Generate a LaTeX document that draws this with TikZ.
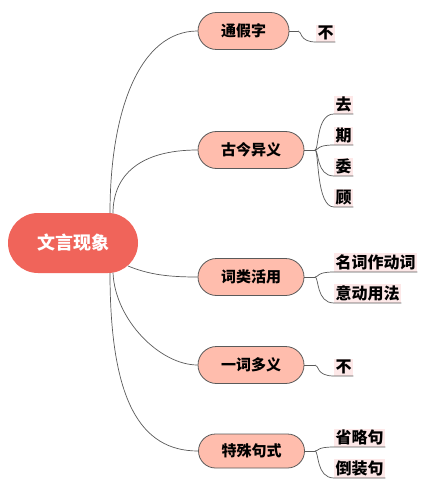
\documentclass[tikz,border=0pt]{standalone}
\usepackage{fontspec}
\setmainfont{Noto Sans CJK SC}
\usetikzlibrary{calc}
\definecolor{rootc}{HTML}{F0645A}
\definecolor{branchc}{HTML}{FFBDAD}
\definecolor{leafc}{HTML}{FDE8E8}
\definecolor{linec}{HTML}{5A5A5A}
\begin{document}
\begin{tikzpicture}[x=1pt,y=-1pt,
 rootnode/.style={rectangle, rounded corners=30pt, fill=rootc, text=white,
   font=\fontsize{18}{20}\selectfont\bfseries, minimum width=130pt, minimum height=60pt, inner sep=0pt},
 branch/.style={rectangle, rounded corners=18.5pt, fill=branchc, draw=linec, line width=0.8pt,
   font=\fontsize{15}{17}\selectfont\bfseries, minimum height=37pt, inner sep=0pt},
 w3/.style={minimum width=91pt},
 w4/.style={minimum width=106pt},
 leaf/.style={fill=leafc, font=\fontsize{16}{18}\selectfont\bfseries, inner xsep=1.5pt, inner ysep=1.5pt, anchor=south west},
 conn/.style={draw=linec, line width=0.7pt}]
\useasboundingbox (0,0) rectangle (427,486);
\fill[white] (0,0) rectangle (427,486);

\node[rootnode] (root) at (73,243) {文言现象};
\node[branch,w3] (b1) at (243.5,31) {通假字};
\node[branch,w4] (b2) at (251,150) {古今异义};
\node[branch,w4] (b3) at (251,277) {词类活用};
\node[branch,w4] (b4) at (251,365) {一词多义};
\node[branch,w4,minimum height=34pt,rounded corners=17pt] (b5) at (251.5,451) {特殊句式};

% leaves
\node[leaf] (l1) at (316,42) {不};
\node[leaf] (l2a) at (334,114) {去};
\node[leaf] (l2b) at (334,145) {期};
\node[leaf] (l2c) at (334,176) {委};
\node[leaf] (l2d) at (334,207) {顾};
\node[leaf] (l3a) at (334,272) {名词作动词};
\node[leaf] (l3b) at (334,303) {意动用法};
\node[leaf] (l4) at (334,376) {不};
\node[leaf] (l5a) at (334,447) {省略句};
\node[leaf] (l5b) at (334,478) {倒装句};

% root connectors
\coordinate (r1) at (110,213.2);
\coordinate (r2) at (113,213.3);
\coordinate (r3) at (128,266);
\coordinate (r4) at (113,272.7);
\coordinate (r5) at (110,272.8);
\draw[conn] (r1) .. controls (110,110) and (140,31) .. (b1.west);
\draw[conn] (r2) .. controls (113,175) and (140,150) .. (b2.west);
\draw[conn] (r3) .. controls (150,275) and (170,277) .. (b3.west);
\draw[conn] (r4) .. controls (115,320) and (160,365) .. (b4.west);
\draw[conn] (r5) .. controls (110,400) and (140,451) .. (b5.west);

% junctions
\coordinate (j1) at (298,31);
\coordinate (j2) at (315,150);
\coordinate (j3) at (315,277);
\coordinate (j4) at (315,365);
\coordinate (j5) at (315,451);
\draw[conn] (b1.east) -- (j1);
\draw[conn] (b2.east) -- (j2);
\draw[conn] (b3.east) -- (j3);
\draw[conn] (b4.east) -- (j4);
\draw[conn] (b5.east) -- (j5);

% leaf connectors with underlines
\foreach \j/\l in {j1/l1,j2/l2a,j2/l2b,j2/l2c,j2/l2d,j3/l3a,j3/l3b,j4/l4,j5/l5a,j5/l5b}
  \draw[conn] (\j) .. controls ($(\j)+(4,0)$) and ($(\l.south west -| \j)+(1,0)$) .. (\l.south west) -- (\l.south east);
\end{tikzpicture}
\end{document}
